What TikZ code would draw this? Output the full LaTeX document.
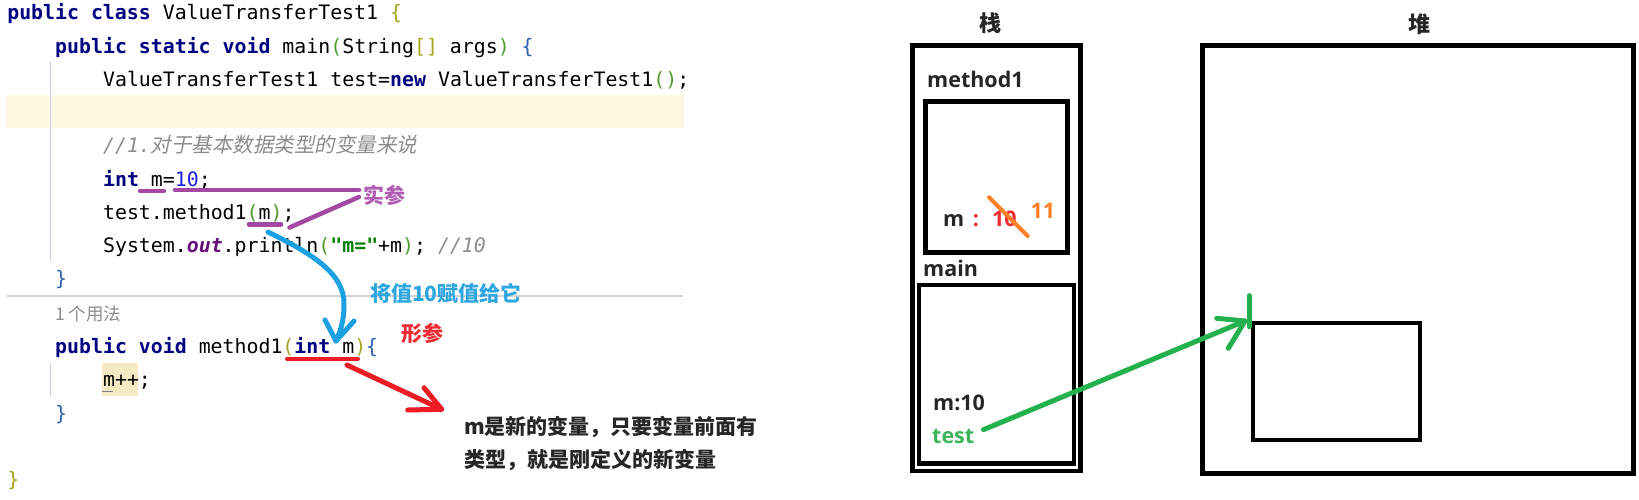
\documentclass[tikz,border=0pt]{standalone}
\usepackage{fontspec}
\usetikzlibrary{calc}
\newfontfamily\code{DejaVu Sans Mono}
\newfontfamily\cjk{Noto Sans CJK SC}
\newfontfamily\cjkit[FakeSlant=0.2]{Noto Sans CJK SC}
\newfontfamily\lab{Open Sans}
\definecolor{kw}{HTML}{000080}
\definecolor{numc}{HTML}{1F1FE0}
\definecolor{strc}{HTML}{008000}
\definecolor{fld}{HTML}{660E7A}
\definecolor{cmt}{HTML}{8C8C8C}
\definecolor{brA}{HTML}{A5A520}
\definecolor{brB}{HTML}{4E9A2A}
\definecolor{brC}{HTML}{2C5FAF}
\definecolor{hl}{HTML}{FEF8E3}
\definecolor{hlm}{HTML}{F5EBC2}
\definecolor{guide}{HTML}{C8D2E6}
\definecolor{sepc}{HTML}{D2D2D2}
\definecolor{ppl}{HTML}{A349A4}
\definecolor{pplt}{HTML}{B05CB0}
\definecolor{blu}{HTML}{1BA1E2}
\definecolor{blut}{HTML}{2EA6E0}
\definecolor{rd}{HTML}{ED1C24}
\definecolor{rdt}{HTML}{EE2A35}
\definecolor{org}{HTML}{FF7F27}
\definecolor{grn}{HTML}{22B14C}
\definecolor{grnt}{HTML}{3CB55A}
\definecolor{txt}{HTML}{262626}
\newcommand\codefont{\code\fontsize{19.87}{24}\selectfont}
\newcommand\cKw[1]{{\color{kw}\bfseries #1}}
\newcommand\cNum[1]{{\color{numc}#1}}
\newcommand\cStr[1]{{\color{strc}\bfseries #1}}
\newcommand\cFld[1]{{\color{fld}\bfseries\itshape #1}}
\newcommand\cBa[1]{{\color{brA}#1}}
\newcommand\cBb[1]{{\color{brB}#1}}
\newcommand\cBc[1]{{\color{brC}#1}}
\tikzset{
  codeline/.style={anchor=base west, inner sep=0pt, outer sep=0pt, font=\codefont, text=black},
  anno/.style={anchor=west, inner sep=0pt, font=\cjk\bfseries\fontsize{21}{24}\selectfont},
  lbl/.style={anchor=base west, inner sep=0pt, font=\lab\bfseries\fontsize{21.5}{24}\selectfont, text=txt},
  title/.style={inner sep=0pt, font=\cjk\bfseries\fontsize{22}{24}\selectfont, text=txt},
  frame/.style={draw=black, line width=4.5pt},
  stroke/.style={line width=4.5pt, line cap=round, line join=round},
}
\begin{document}
\begin{tikzpicture}[x=1pt,y=-1pt]
\useasboundingbox (0,0) rectangle (1639,500);
\fill[white] (0,0) rectangle (1639,500);
% ---------- code panel ----------
\fill[hl] (5.8,95) rectangle (684,127.7);
\fill[hlm] (102,363.3) rectangle (138,395.7);
\draw[guide, line width=1.2pt] (50.7,61) -- (50.7,262);
\draw[guide, line width=1.2pt] (50.7,363) -- (50.7,396);
\draw[sepc, line width=1.2pt] (7,296) -- (683,296);

\node[codeline] (l1) at (7.3,20) {\cKw{public class} ValueTransferTest1 \cBa{\{}};
\node[codeline] (l2) at (55.2,53.3) {\cKw{public static void} main\cBb{(}String\cBa{[]} args\cBb{)} \cBc{\{}};
\node[codeline] (l3) at (103.1,86.5) {ValueTransferTest1 test=\cKw{new} ValueTransferTest1\cBb{()};};
\node[codeline] (l5) at (103.1,153) {{\color{cmt}\itshape //1.}{\cjkit\fontsize{20.5}{24}\selectfont\color{cmt}对于基本数据类型的变量来说}};
\node[codeline] (l6) at (103.1,186) {\cKw{int} m=\cNum{10};};
\node[codeline] (l7) at (103.1,219.5) {test.method1\cBb{(}m\cBb{)};};
\node[codeline] (l8) at (103.1,252.5) {System.\cFld{out}.println\cBb{(}\cStr{"m="}+m\cBb{)}; {\color{cmt}\itshape //10}};
\node[codeline] (l9) at (55.2,285.5) {\cBc{\}}};
\node[anchor=base west, inner sep=0pt, font=\cjk\fontsize{17.5}{20}\selectfont, text=cmt] (use) at (55,320) {1 个用法};
\node[codeline] (l10) at (55.2,353.3) {\cKw{public void} method1\cBa{(}\cKw{int} m\cBa{)}\cBc{\{}};
\node[codeline] (l11) at (103.1,386.7) {m++;};
\node[codeline] (l12) at (55.2,420) {\cBc{\}}};
\node[codeline] (l14) at (7.3,486.7) {\cBa{\}}};
\draw[gray, line width=1pt] (102,391.7) -- (113,391.7);

% ---------- annotations ----------
\draw[ppl, stroke] (140,191) -- (164,191);
\draw[ppl, stroke] (175,190) -- (359,190);
\draw[ppl, stroke] (249,224.5) -- (281,224.5);
\draw[ppl, stroke] (289.5,227.5) -- (359,197);
\node[anno, text=pplt] (shican) at (363.3,195) {实参};

\coordinate (btip) at (336,341);
\draw[blu, stroke, line width=5pt] (268,232) .. controls (315,255) and (345,275) .. (344,305) .. controls (344,322) and (340,332) .. (btip);
\draw[blu, stroke, line width=5pt] (325,320) -- (btip) -- (354,321);
\node[anno, text=blut] (fuzhi) at (370,293.3) {将值10赋值给它};
\node[anno, text=rdt] (xingcan) at (401.7,333.3) {形参};

\draw[rd, stroke, line width=4pt] (287,359) -- (358,359);
\coordinate (rtip) at (441.7,409.3);
\draw[rd, stroke, line width=5pt] (347,365) -- (rtip);
\draw[rd, stroke, line width=5pt] (424,387.7) -- (rtip) -- (407.7,410);
\node[anno, text=txt] (note1) at (464,426.7) {m是新的变量，只要变量前面有};
\node[anno, text=txt] (note2) at (464,460) {类型，就是刚定义的新变量};

% ---------- stack ----------
\node[title] (zhan) at (990,23.3) {栈};
\draw[frame] (912.7,45.7) rectangle (1080.7,471);
\node[lbl] (m1lbl) at (927,87.3) {method1};
\draw[frame] (925.7,101.3) rectangle (1067.7,252.3);
\node[lbl] (mm) at (943,226.7) {m};
\node[lbl, anchor=base, text=rdt] (colon) at (976,226.7) {:};
\node[lbl, text=rdt] (ten) at (992,226.7) {10};
\node[lbl, text=org] (eleven) at (1030.5,218.3) {11};
\draw[org, stroke, line width=4pt] (989,197.3) -- (1027.7,236);
\node[lbl] (mainlbl) at (923,276) {main};
\draw[frame] (919,285) rectangle (1074,463.3);
\node[lbl] (m10) at (933,410) {m:10};
\node[lbl, text=grnt] (test) at (932,443.3) {test};

% ---------- heap ----------
\node[title] (dui) at (1419,24) {堆};
\draw[frame, line width=5pt] (1202.3,46) rectangle (1633.8,473);
\node[draw=black, line width=4pt, minimum width=166.7pt, minimum height=117.3pt, inner sep=0pt, anchor=north west] (obj) at (1251,321) {};

\coordinate (gtip) at ($(obj.north west)+(-6,0)$);
\draw[grn, stroke, line width=5pt] ($(test.east)+(9,-6.6)$) -- (gtip);
\draw[grn, stroke, line width=5pt] (1216.7,318.3) -- (gtip) -- (1228.3,348.3);
\draw[grn, stroke, line width=5pt] (1249.3,295.7) -- (1249.3,326.7);
\end{tikzpicture}
\end{document}
